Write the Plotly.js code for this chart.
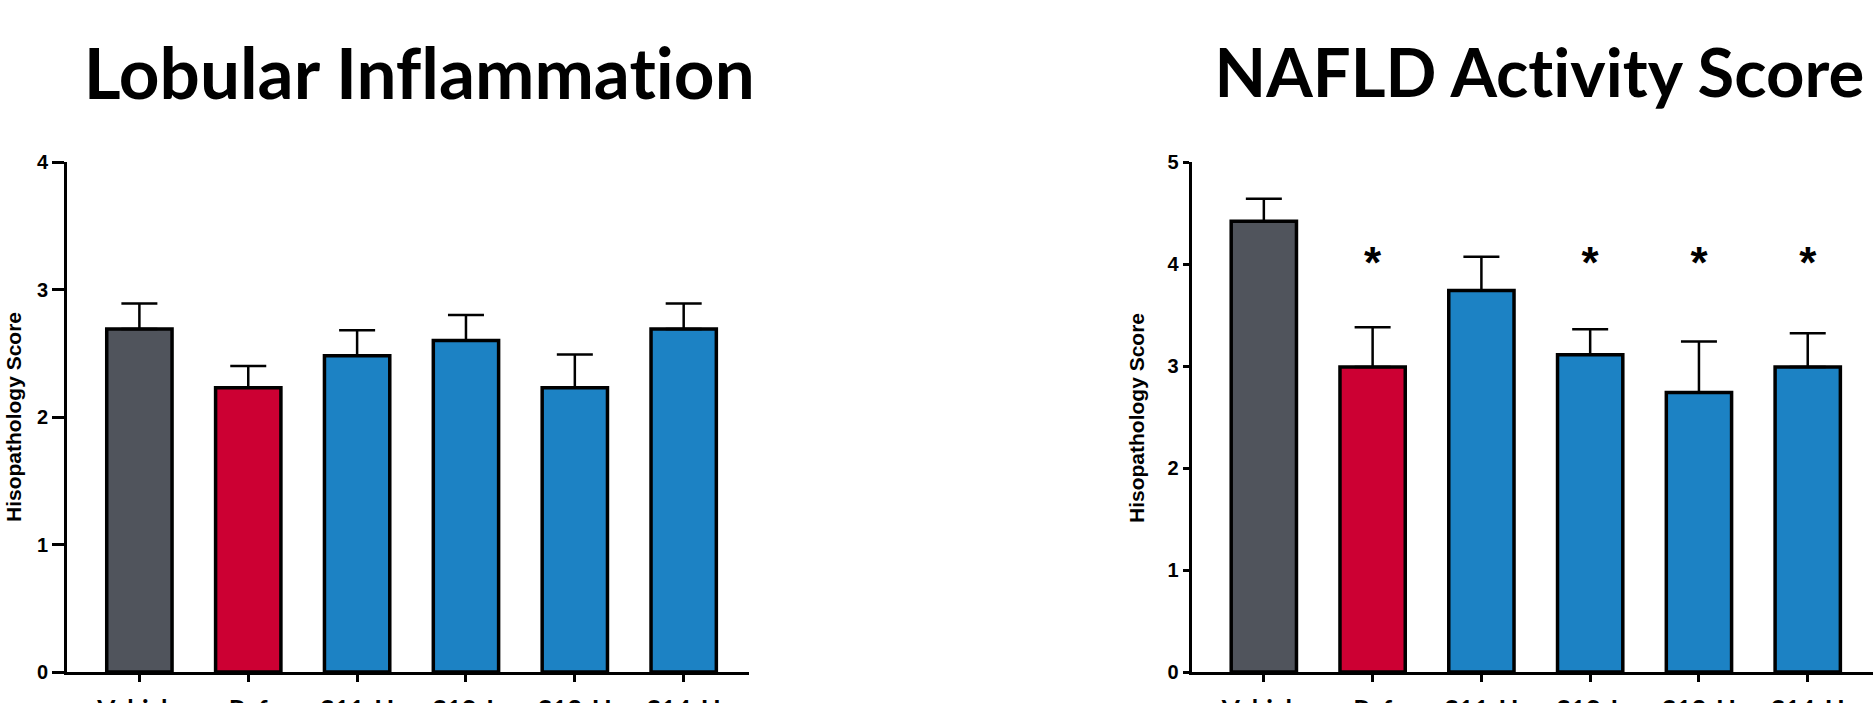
<!DOCTYPE html>
<html>
<head>
<meta charset="utf-8">
<script src="https://cdn.plot.ly/plotly-3.0.1.min.js"></script>
<style>
  html, body { margin: 0; padding: 0; background: #ffffff; }
  #chart { width: 1873px; height: 703px; }
  #chart text { font-variant-ligatures: none; font-feature-settings: "liga" 0, "clig" 0; }
</style>
</head>
<body>
<div id="chart"></div>
<script>
// ---- data ----
const categories = ['Vehicle', 'Ref', 'S11-H', 'S12-L', 'S13-H', 'S14-H'];
const barColors = ['#50545C', '#CC0033', '#1C82C4', '#1C82C4', '#1C82C4', '#1C82C4'];

const lobularMean = [2.69, 2.23, 2.48, 2.60, 2.23, 2.69];
const lobularSem  = [0.20, 0.17, 0.20, 0.20, 0.26, 0.20];

const nasMean = [4.42, 2.99, 3.74, 3.11, 2.74, 2.99];
const nasSem  = [0.22, 0.39, 0.33, 0.25, 0.50, 0.33];
const nasSig  = ['', '*', '', '*', '*', '*'];
const nasSigLevel = 3.97;

const titleLeft = 'Lobular Inflammation';
const titleRight = 'NAFLD Activity Score';
const yTitle = 'Hisopathology Score';

// ---- layout helpers ----
const W = 1873, H = 703;
const px = x => x / W;
const py = y => 1 - y / H;
const zeros = categories.map(() => 0);

function bars(mean, sem, xa, ya) {
  return {
    type: 'bar', x: categories, y: mean, xaxis: xa, yaxis: ya,
    marker: { color: barColors, line: { color: '#000000', width: 3.5 } },
    error_y: { type: 'data', symmetric: false, array: sem, arrayminus: zeros,
               color: '#000000', thickness: 2.5, width: 18 },
    hoverinfo: 'none'
  };
}

const traces = [
  bars(lobularMean, lobularSem, 'x', 'y'),
  bars(nasMean, nasSem, 'x2', 'y2'),
  {
    type: 'scatter', mode: 'text', x: categories,
    y: nasSig.map(() => nasSigLevel), text: nasSig,
    xaxis: 'x2', yaxis: 'y2',
    textposition: 'middle center',
    textfont: { family: 'Liberation Sans, Arial, sans-serif', size: 44, color: '#000000', weight: 'bold' },
    hoverinfo: 'none'
  }
];

const xTickFont = { family: 'Lato, Carlito, sans-serif', size: 26, color: '#000000', weight: 'bold' };
const yTickFont = { family: 'Liberation Sans, Arial, sans-serif', size: 20, color: '#000000', weight: 'bold' };

function xAxis(domain, anchor) {
  return {
    domain: domain, anchor: anchor, type: 'category', range: [-0.665, 5.6],
    showline: true, linewidth: 3, linecolor: '#000000',
    ticks: 'outside', ticklen: 7, tickwidth: 3, tickcolor: '#000000',
    ticklabelstandoff: 6,
    tickfont: xTickFont, showgrid: false, zeroline: false, automargin: false,
    fixedrange: true
  };
}
function yAxis(range, anchor, ticklen) {
  return {
    domain: [py(672), py(162)], anchor: anchor, range: range,
    tickmode: 'linear', tick0: 0, dtick: 1,
    showline: true, linewidth: 3, linecolor: '#000000',
    ticks: 'outside', ticklen: ticklen, tickwidth: 3, tickcolor: '#000000',
    tickfont: yTickFont, showgrid: false, zeroline: false, automargin: false,
    fixedrange: true
  };
}

const titleFontL = { family: 'Lato, Carlito, sans-serif', size: 71, color: '#000000', weight: 'bold' };
const titleFontR = { family: 'Lato, Carlito, sans-serif', size: 67, color: '#000000', weight: 'bold' };
const yTitleFont = { family: 'Liberation Sans, Arial, sans-serif', size: 21, color: '#000000', weight: 'bold' };

const layout = {
  width: W, height: H,
  margin: { l: 0, r: 0, t: 0, b: 0, pad: 0 },
  paper_bgcolor: '#ffffff', plot_bgcolor: '#ffffff',
  showlegend: false, bargap: 0.4,
  font: { family: 'Liberation Sans, Arial, sans-serif', color: '#000000' },
  xaxis: xAxis([px(67), px(749)], 'y'),
  yaxis: yAxis([0, 4], 'x', 12),
  xaxis2: xAxis([px(1191.5), 1], 'y2'),
  yaxis2: yAxis([0, 5], 'x2', 6),
  annotations: [
    { text: titleLeft, xref: 'paper', yref: 'paper', x: px(419), y: py(71),
      xanchor: 'center', yanchor: 'middle', showarrow: false, font: titleFontL },
    { text: titleRight, xref: 'paper', yref: 'paper', x: px(1539), y: py(71),
      xanchor: 'center', yanchor: 'middle', showarrow: false, font: titleFontR },
    { text: yTitle, xref: 'paper', yref: 'paper', x: px(13), y: py(417),
      xanchor: 'center', yanchor: 'middle', textangle: -90, showarrow: false, font: yTitleFont },
    { text: yTitle, xref: 'paper', yref: 'paper', x: px(1136), y: py(418),
      xanchor: 'center', yanchor: 'middle', textangle: -90, showarrow: false, font: yTitleFont }
  ]
};

Plotly.newPlot('chart', traces, layout, { displayModeBar: false, staticPlot: true });
</script>
</body>
</html>
